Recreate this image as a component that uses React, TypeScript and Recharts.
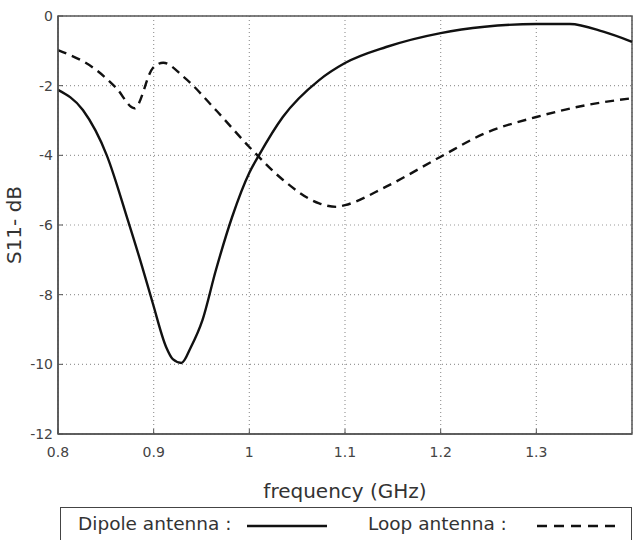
import React from 'react';
import { LineChart, Line, XAxis, YAxis, CartesianGrid, ReferenceArea, Label } from 'recharts';

const dipoleFreq = [0.8, 0.826, 0.851, 0.873, 0.888, 0.899, 0.913, 0.92, 0.929, 0.939, 0.951, 0.965, 0.982, 1.0, 1.01, 1.035, 1.073, 1.1, 1.143, 1.2, 1.246, 1.3, 1.335, 1.37, 1.4];
const dipoleS11 = [-2.12, -2.7, -4.0, -5.86, -7.2, -8.24, -9.5, -9.85, -9.96, -9.5, -8.73, -7.3, -5.77, -4.5, -4.0, -2.9, -1.84, -1.35, -0.89, -0.49, -0.31, -0.23, -0.23, -0.45, -0.74];

const loopFreq = [0.8, 0.84, 0.861, 0.88, 0.899, 0.91, 0.931, 0.965, 1.0, 1.035, 1.073, 1.091, 1.1, 1.143, 1.2, 1.246, 1.3, 1.352, 1.4];
const loopS11 = [-0.98, -1.55, -2.07, -2.65, -1.5, -1.34, -1.74, -2.7, -3.76, -4.7, -5.38, -5.48, -5.43, -4.9, -4.04, -3.37, -2.9, -2.56, -2.36];

const xTicks = [0.8, 0.9, 1, 1.1, 1.2, 1.3];
const yTicks = [0, -2, -4, -6, -8, -10, -12];

const dipoleData = dipoleFreq.map((f, i) => ({ f, v: dipoleS11[i] }));
const loopData = loopFreq.map((f, i) => ({ f, v: loopS11[i] }));

const FONT = '"DejaVu Sans", sans-serif';
const tickStyle = { fontSize: 14, fill: '#444', fontFamily: FONT };

export default function App() {
  return (
    <div style={{ position: 'absolute', left: 0, top: 0, width: 640, height: 540, background: '#fff', overflow: 'hidden' }}>
      <LineChart width={640} height={506} margin={{ top: 16, right: 8, left: 0, bottom: 0 }}>
        <CartesianGrid stroke="#999" strokeDasharray="1 3" strokeWidth={1.2} />
        <XAxis
          dataKey="f"
          type="number"
          domain={[0.8, 1.4]}
          ticks={xTicks}
          allowDuplicatedCategory={false}
          height={72}
          tick={tickStyle}
          tickLine={{ stroke: '#555' }}
          tickSize={-5}
          tickMargin={18}
          axisLine={{ stroke: '#555', strokeWidth: 1.5 }}
        >
          <Label value="frequency (GHz)" position="insideBottom" offset={8} style={{ fontSize: 20, fill: '#333', fontFamily: FONT }} />
        </XAxis>
        <YAxis
          dataKey="v"
          type="number"
          domain={[-12, 0]}
          ticks={yTicks}
          width={58}
          tick={tickStyle}
          tickLine={{ stroke: '#555' }}
          tickSize={-5}
          tickMargin={10}
          axisLine={{ stroke: '#555', strokeWidth: 1.5 }}
        >
          <Label value="S11- dB" angle={-90} position="insideLeft" offset={14} style={{ fontSize: 20, fill: '#333', fontFamily: FONT, textAnchor: 'middle' }} />
        </YAxis>
        <ReferenceArea x1={0.8} x2={1.4} y1={-12} y2={0} fill="none" stroke="#555" strokeWidth={1.5} ifOverflow="visible" />
        <Line data={dipoleData} dataKey="v" type="monotone" stroke="#111" strokeWidth={2.4} dot={false} isAnimationActive={false} />
        <Line data={loopData} dataKey="v" type="monotone" stroke="#111" strokeWidth={2.4} strokeDasharray="9 6" dot={false} isAnimationActive={false} />
      </LineChart>
      <div
        style={{
          position: 'absolute',
          left: 60,
          top: 507,
          width: 572,
          height: 40,
          border: '1.5px solid #444',
          boxSizing: 'border-box',
          fontFamily: FONT,
          fontSize: 18.5,
          color: '#333',
        }}
      >
        <span style={{ position: 'absolute', left: 17, top: 5 }}>Dipole antenna :</span>
        <svg style={{ position: 'absolute', left: 186, top: 16 }} width={80} height={4}>
          <line x1={0} y1={2} x2={80} y2={2} stroke="#111" strokeWidth={2.4} />
        </svg>
        <span style={{ position: 'absolute', left: 307, top: 5 }}>Loop antenna :</span>
        <svg style={{ position: 'absolute', left: 476, top: 16 }} width={82} height={4}>
          <line x1={0} y1={2} x2={82} y2={2} stroke="#111" strokeWidth={2.4} strokeDasharray="10 7" />
        </svg>
      </div>
    </div>
  );
}
